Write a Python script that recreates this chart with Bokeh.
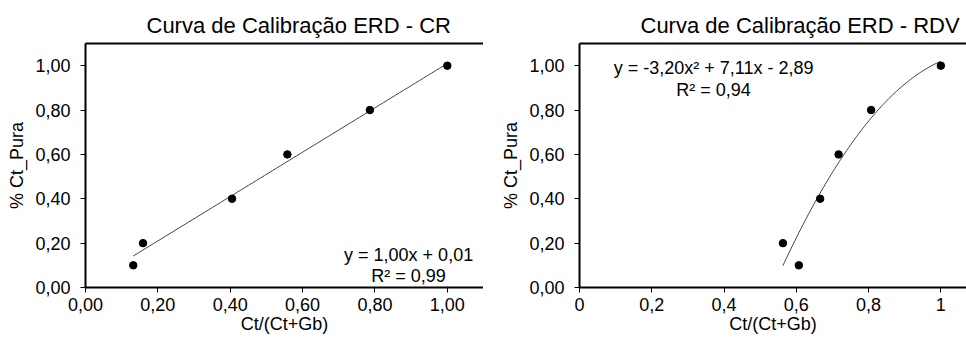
import numpy as np
from bokeh.plotting import figure
from bokeh.layouts import row
from bokeh.models import FixedTicker, LinearAxis, Label, Range1d
from bokeh.embed import file_html
from bokeh.resources import INLINE

# ---- data ----
cr_x = [0.132, 0.159, 0.405, 0.558, 0.786, 1.000]
cr_y = [0.10, 0.20, 0.40, 0.60, 0.80, 1.00]
cr_coef = [1.00, 0.01]            # y = 1,00x + 0,01
cr_eq = "y = 1,00x + 0,01"
cr_r2 = "R² = 0,99"
cr_title = "Curva de Calibração ERD - CR"

rdv_x = [0.563, 0.607, 0.666, 0.717, 0.807, 1.000]
rdv_y = [0.20, 0.10, 0.40, 0.60, 0.80, 1.00]
rdv_coef = [-3.20, 7.11, -2.89]   # y = -3,20x² + 7,11x - 2,89
rdv_eq = "y = -3,20x² + 7,11x - 2,89"
rdv_r2 = "R² = 0,94"
rdv_title = "Curva de Calibração ERD - RDV"

y_ticks = [0.0, 0.2, 0.4, 0.6, 0.8, 1.0]
y_tick_labels = ["0,00", "0,20", "0,40", "0,60", "0,80", "1,00"]
cr_x_ticks = [0.0, 0.2, 0.4, 0.6, 0.8, 1.0]
cr_x_tick_labels = ["0,00", "0,20", "0,40", "0,60", "0,80", "1,00"]
rdv_x_ticks = [0.0, 0.2, 0.4, 0.6, 0.8, 1.0]
rdv_x_tick_labels = ["0", "0,2", "0,4", "0,6", "0,8", "1"]

x_label = "Ct/(Ct+Gb)"
y_label = "% Ct_Pura"

FONT = "Liberation Sans"


def style_axis(ax, ticks, labels):
    ax.ticker = FixedTicker(ticks=ticks)
    ax.major_label_overrides = {t: l for t, l in zip(ticks, labels)}
    ax.axis_line_width = 2
    ax.axis_line_color = "black"
    ax.major_tick_line_color = "black"
    ax.major_tick_line_width = 1
    ax.major_tick_out = 5
    ax.major_tick_in = 0
    ax.minor_tick_line_color = None
    ax.major_label_text_font = FONT
    ax.major_label_text_font_size = "18px"
    ax.major_label_text_color = "black"
    ax.axis_label_text_font = FONT
    ax.axis_label_text_font_size = "18px"
    ax.axis_label_text_font_style = "normal"
    ax.axis_label_text_color = "black"


def make_panel(title, xs, ys, coef, xt, xtl, eq, r2, eq_x, eq_y1, eq_y2,
               border_left, x_end, title_offset):
    p = figure(width=483, height=338,
               x_range=Range1d(0, x_end), y_range=Range1d(0, 1.1),
               output_backend="svg", toolbar_location=None,
               min_border_left=border_left, min_border_right=0,
               min_border_top=43, min_border_bottom=51,
               background_fill_color="white", border_fill_color="white",
               outline_line_color=None)
    p.grid.visible = False

    p.title.text = title
    p.title.align = "left"
    p.title.offset = title_offset
    p.title.text_font = FONT
    p.title.text_font_size = "22px"
    p.title.text_font_style = "normal"
    p.title.text_color = "black"
    p.title.standoff = 12

    style_axis(p.xaxis[0], xt, xtl)
    p.xaxis[0].axis_label = x_label
    p.xaxis[0].major_label_standoff = 5
    p.xaxis[0].axis_label_standoff = 0

    style_axis(p.yaxis[0], y_ticks, y_tick_labels)
    p.yaxis[0].axis_label = y_label
    p.yaxis[0].major_label_standoff = 10
    p.yaxis[0].axis_label_standoff = 5

    top = LinearAxis(ticker=FixedTicker(ticks=[]), axis_line_width=2,
                     axis_line_color="black", major_tick_line_color=None,
                     minor_tick_line_color=None,
                     major_label_text_font_size="0px")
    p.add_layout(top, "above")

    # trend line from fitted coefficients over the data range
    fx = np.linspace(min(xs), max(xs), 80)
    fy = np.polyval(coef, fx)
    p.line(fx, fy, line_color="#444444", line_width=1)

    p.scatter(xs, ys, size=7.5, fill_color="black", line_color="black")

    for txt, yy in ((eq, eq_y1), (r2, eq_y2)):
        p.add_layout(Label(x=eq_x, y=yy, text=txt, text_align="center",
                           text_baseline="alphabetic", text_font=FONT,
                           text_font_size="18px", text_color="black"))
    return p


p1 = make_panel(cr_title, cr_x, cr_y, cr_coef, cr_x_ticks, cr_x_tick_labels,
                cr_eq, cr_r2, 0.893, 0.145, 0.050, 85, 1.1, 61)
p2 = make_panel(rdv_title, rdv_x, rdv_y, rdv_coef, rdv_x_ticks, rdv_x_tick_labels,
                rdv_eq, rdv_r2, 0.371, 0.990, 0.891, 96, 1.071, 61)

layout = row(p1, p2, spacing=0)
open("out.html", "w").write(file_html(layout, INLINE))
